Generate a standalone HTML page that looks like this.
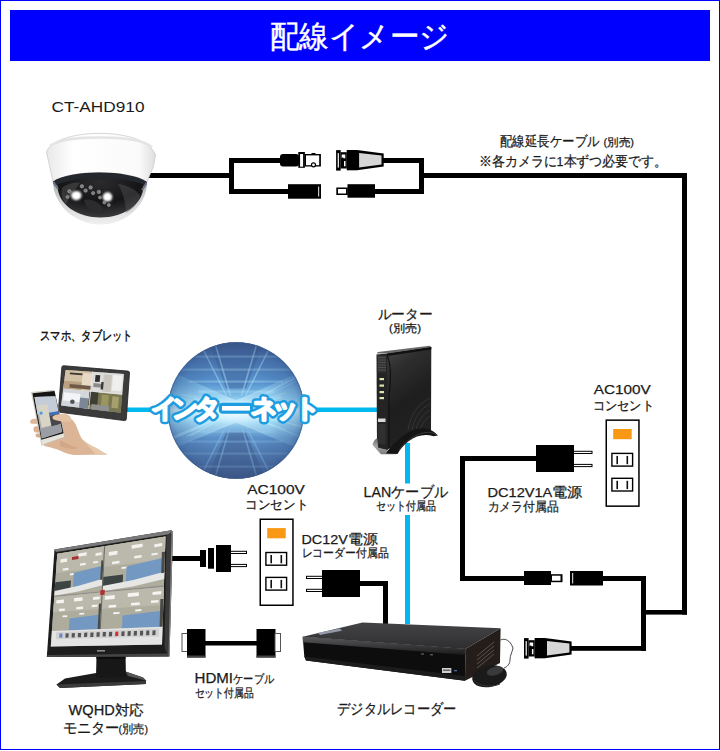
<!DOCTYPE html>
<html><head><meta charset="utf-8">
<style>
html,body{margin:0;padding:0;background:#fff;}
body{width:720px;height:751px;overflow:hidden;font-family:"Liberation Sans",sans-serif;}
svg{display:block;}
text{font-family:"Liberation Sans",sans-serif;fill:#1a1a1a;}
</style></head><body>
<svg width="720" height="751" viewBox="0 0 720 751">
<defs>
  <linearGradient id="gGlobeV" x1="0" y1="0" x2="0" y2="1">
    <stop offset="0" stop-color="#465f8e"/>
    <stop offset="0.12" stop-color="#4c78b2"/>
    <stop offset="0.3" stop-color="#5894cf"/>
    <stop offset="0.42" stop-color="#8ccbee"/>
    <stop offset="0.5" stop-color="#dff6ff"/>
    <stop offset="0.58" stop-color="#9ad3f2"/>
    <stop offset="0.7" stop-color="#5a8fc8"/>
    <stop offset="0.88" stop-color="#4f74a8"/>
    <stop offset="1" stop-color="#4a6290"/>
  </linearGradient>
  <radialGradient id="gGlobeR" cx="0.5" cy="0.5" r="0.5">
    <stop offset="0.55" stop-color="#2a4a80" stop-opacity="0"/>
    <stop offset="0.9" stop-color="#2a4a80" stop-opacity="0.25"/>
    <stop offset="1" stop-color="#2a4a80" stop-opacity="0.45"/>
  </radialGradient>
  <radialGradient id="gBand" cx="0.5" cy="0.5" r="0.5">
    <stop offset="0" stop-color="#ffffff" stop-opacity="0.9"/>
    <stop offset="0.6" stop-color="#d4f2ff" stop-opacity="0.5"/>
    <stop offset="1" stop-color="#a8e0fa" stop-opacity="0"/>
  </radialGradient>
  <linearGradient id="gBow" x1="0" y1="0" x2="1" y2="0">
    <stop offset="0" stop-color="#9fdcf8" stop-opacity="0.15"/>
    <stop offset="0.3" stop-color="#b8ecff" stop-opacity="0.35"/>
    <stop offset="0.5" stop-color="#e8fbff" stop-opacity="0.5"/>
    <stop offset="0.7" stop-color="#b8ecff" stop-opacity="0.35"/>
    <stop offset="1" stop-color="#9fdcf8" stop-opacity="0.15"/>
  </linearGradient>
  <clipPath id="cGlobe"><circle cx="236" cy="410.5" r="68.3"/></clipPath>
  <radialGradient id="gDome" cx="0.5" cy="0.2" r="0.8">
    <stop offset="0" stop-color="#2c2c2e"/>
    <stop offset="0.55" stop-color="#151517"/>
    <stop offset="1" stop-color="#3a3a3c"/>
  </radialGradient>
  <filter id="fBlur" x="-50%" y="-50%" width="200%" height="200%"><feGaussianBlur stdDeviation="1.1"/></filter>
  <linearGradient id="gShell" x1="0" y1="0" x2="0" y2="1">
    <stop offset="0" stop-color="#9a9a9a"/>
    <stop offset="0.5" stop-color="#d0d0d0"/>
    <stop offset="1" stop-color="#f0f0f0"/>
  </linearGradient>
  <linearGradient id="gHouse" x1="0" y1="0" x2="1" y2="0">
    <stop offset="0" stop-color="#e9e9e9"/>
    <stop offset="0.25" stop-color="#ffffff"/>
    <stop offset="0.85" stop-color="#fafafa"/>
    <stop offset="1" stop-color="#dedede"/>
  </linearGradient>
  <linearGradient id="gDvrTop" x1="0" y1="0" x2="0" y2="1">
    <stop offset="0" stop-color="#444446"/>
    <stop offset="1" stop-color="#2e2e30"/>
  </linearGradient>
  <linearGradient id="gDvrFront" x1="0" y1="0" x2="0" y2="1">
    <stop offset="0" stop-color="#1c1c1c"/>
    <stop offset="0.4" stop-color="#0e0e0e"/>
    <stop offset="1" stop-color="#141414"/>
  </linearGradient>
  <linearGradient id="gDvrBevel" x1="0" y1="0" x2="0" y2="1">
    <stop offset="0" stop-color="#5a5a5c"/>
    <stop offset="0.5" stop-color="#3a3a3c"/>
    <stop offset="1" stop-color="#1a1a1a"/>
  </linearGradient>
  <linearGradient id="gFoot" x1="0" y1="0" x2="0" y2="1">
    <stop offset="0" stop-color="#6a6a6a"/>
    <stop offset="0.5" stop-color="#a8a8a8"/>
    <stop offset="1" stop-color="#7a7a7a"/>
  </linearGradient>
  <linearGradient id="gRouter" x1="0" y1="0" x2="0.3" y2="1">
    <stop offset="0" stop-color="#474747"/>
    <stop offset="0.25" stop-color="#2e2e2e"/>
    <stop offset="0.6" stop-color="#1e1e1e"/>
    <stop offset="1" stop-color="#222"/>
  </linearGradient>
</defs>

<!-- border + title -->
<rect x="0.5" y="0.5" width="719" height="749" fill="#fff" stroke="#0000ff" stroke-width="1"/>
<rect x="10" y="10" width="700" height="51" fill="#0000ff"/>
<text x="359.5" y="46.5" text-anchor="middle" font-size="31" style="fill:#fff;stroke:#fff;stroke-width:0.4" textLength="180" lengthAdjust="spacingAndGlyphs">配線イメージ</text>

<!-- ============ CABLES (black) ============ -->
<g fill="#000">
  <rect x="148" y="173" width="86" height="5"/>
  <rect x="229" y="158" width="5" height="36"/>
  <rect x="229" y="158" width="52" height="5"/>
  <rect x="229" y="189" width="60" height="5"/>
  <rect x="380" y="158" width="44" height="5"/>
  <rect x="372" y="189" width="52" height="5"/>
  <rect x="419" y="158" width="5" height="36"/>
  <rect x="419" y="173" width="268" height="5"/>
  <rect x="682" y="173" width="5" height="441.6"/>
  <rect x="641" y="610" width="46" height="4.6"/>
  <rect x="641" y="576" width="5" height="75"/>
  <rect x="600" y="576" width="46" height="5"/>
  <rect x="568" y="646" width="78" height="4.8"/>
  <rect x="460" y="456" width="78" height="5"/>
  <rect x="460" y="456" width="5" height="125"/>
  <rect x="460" y="576" width="66" height="5"/>
  <rect x="168" y="556" width="33" height="5"/>
  <rect x="358" y="581" width="30" height="5"/>
  <rect x="383" y="581" width="5" height="43"/>
  <rect x="204" y="641" width="54" height="4.5"/>
</g>

<!-- LAN (blue) -->
<g fill="#00b7ee">
  <rect x="125" y="407.5" width="253" height="4.5"/>
  <rect x="405" y="443" width="5" height="40.5"/>
  <rect x="405" y="515" width="5" height="109"/>
</g>

<!-- ============ CONNECTORS ============ -->
<!-- left BNC male -->
<rect x="280" y="154" width="19" height="12.5" rx="3" fill="#000"/>
<rect x="298.3" y="152" width="6.6" height="15.8" fill="#000"/>
<rect x="300.1" y="154" width="3" height="12.7" fill="#fff"/>
<rect x="304.9" y="154" width="16" height="12.5" fill="#000"/>
<rect x="306" y="155.4" width="13.2" height="9.8" fill="#fff"/>
<circle cx="313.5" cy="164.8" r="2" fill="#fff" stroke="#000" stroke-width="1.2"/>
<rect x="311.5" y="153" width="4" height="2" fill="#000"/>
<!-- left DC female -->
<rect x="288" y="184.2" width="33" height="14.5" fill="#000"/>
<rect x="318" y="186.5" width="1.2" height="10" fill="#c8c8c8"/>
<g transform="translate(336.1,160.3)">
  <rect x="0" y="-10.2" width="4.6" height="20.5" fill="#000"/>
  <rect x="1.6" y="-7.2" width="1.2" height="14.5" fill="#fff"/>
  <rect x="4.5" y="-8.1" width="6.2" height="16.3" fill="#000"/>
  <rect x="5.6" y="-5.8" width="3.6" height="3.8" fill="#fff"/>
  <rect x="7.9" y="0.8" width="1.5" height="5.2" fill="#fff"/>
  <circle cx="6.6" cy="-1.6" r="1.1" fill="#000"/>
  <rect x="10.6" y="-10.3" width="10.4" height="20.3" fill="#000"/>
  <polygon points="20.8,-10.3 47.6,-6.7 47.6,6.1 20.8,10" fill="#000"/>
  <polygon points="23,-7.4 45.4,-4.7 45.4,4.1 23,7.1" fill="#d6d6d6"/>
</g>
<!-- right DC male -->
<rect x="336.3" y="187.5" width="11.5" height="7.5" fill="#000"/>
<rect x="338" y="189" width="8" height="4.5" fill="#fff"/>
<rect x="347.5" y="184.2" width="27.5" height="13.5" fill="#000"/>

<rect x="524" y="571" width="27" height="14" fill="#000"/>
<rect x="550.5" y="574.2" width="12" height="8" fill="#000"/>
<rect x="552" y="575.7" width="8.5" height="5" fill="#fff"/>
<rect x="570" y="571" width="33" height="14.5" fill="#000"/>
<rect x="572" y="573" width="1.2" height="10.5" fill="#c8c8c8"/>

<g transform="translate(524,648.3)">
  <rect x="0" y="-10.2" width="4.6" height="20.5" fill="#000"/>
  <rect x="1.6" y="-7.2" width="1.2" height="14.5" fill="#fff"/>
  <rect x="4.5" y="-8.1" width="6.2" height="16.3" fill="#000"/>
  <rect x="5.6" y="-5.8" width="3.6" height="3.8" fill="#fff"/>
  <rect x="7.9" y="0.8" width="1.5" height="5.2" fill="#fff"/>
  <circle cx="6.6" cy="-1.6" r="1.1" fill="#000"/>
  <rect x="10.6" y="-10.3" width="10.4" height="20.3" fill="#000"/>
  <polygon points="20.8,-10.3 47.6,-6.7 47.6,6.1 20.8,10" fill="#000"/>
  <polygon points="23,-7.4 45.4,-4.7 45.4,4.1 23,7.1" fill="#d6d6d6"/>
</g>

<rect x="536" y="445" width="38" height="27" fill="#000"/>
<g fill="#fff" stroke="#000" stroke-width="1">
  <rect x="573.5" y="451.3" width="18.5" height="2.2"/>
  <rect x="573.5" y="464.4" width="18.5" height="2.2"/>
</g>

<rect x="200" y="550" width="6" height="17" fill="#000"/>
<rect x="208" y="548" width="6" height="20.7" fill="#000"/>
<rect x="216" y="545" width="15" height="27" fill="#000"/>
<g fill="#fff" stroke="#000" stroke-width="1">
  <rect x="230.5" y="551.3" width="16" height="2.2"/>
  <rect x="230.5" y="564.4" width="16" height="2.2"/>
</g>

<rect x="322" y="570" width="38" height="27" fill="#000"/>
<g fill="#fff" stroke="#000" stroke-width="1">
  <rect x="306.5" y="576.3" width="16" height="2.2"/>
  <rect x="306.5" y="589.3" width="16" height="2.2"/>
</g>

<rect x="182" y="633.5" width="6" height="18" fill="#fff" stroke="#555" stroke-width="1"/>
<rect x="187" y="629" width="18.5" height="28.5" fill="#000"/>
<rect x="187" y="655.5" width="18.5" height="2" fill="#444"/>
<rect x="256.5" y="629" width="19" height="28.5" fill="#000"/>
<rect x="256.5" y="655.5" width="19" height="2" fill="#444"/>
<rect x="275" y="633.5" width="5.5" height="18" fill="#fff" stroke="#555" stroke-width="1"/>

<g transform="translate(259.5,518.5)">
  <rect x="0" y="0" width="34.2" height="87.5" fill="#000"/>
  <rect x="1.5" y="1.5" width="31.2" height="84.5" fill="#fff"/>
  <rect x="7.7" y="9.6" width="18.5" height="10.2" fill="#f99815"/>
  <rect x="5.7" y="33.3" width="22.1" height="14.1" fill="#000"/>
  <rect x="7.1" y="34.7" width="19.3" height="11.3" fill="#fff"/>
  <rect x="10.9" y="36.5" width="1.6" height="8.3" fill="#111"/>
  <rect x="21" y="36.5" width="1.6" height="8.3" fill="#111"/>
  <rect x="5.7" y="58.2" width="22.1" height="14.1" fill="#000"/>
  <rect x="7.1" y="59.6" width="19.3" height="11.3" fill="#fff"/>
  <rect x="10.9" y="61.4" width="1.6" height="8.3" fill="#111"/>
  <rect x="21" y="61.4" width="1.6" height="8.3" fill="#111"/>
</g>
<g transform="translate(605.5,419.4)">
  <rect x="0" y="0" width="34.2" height="87.5" fill="#000"/>
  <rect x="1.5" y="1.5" width="31.2" height="84.5" fill="#fff"/>
  <rect x="7.7" y="9.6" width="18.5" height="10.2" fill="#f99815"/>
  <rect x="5.7" y="33.3" width="22.1" height="14.1" fill="#000"/>
  <rect x="7.1" y="34.7" width="19.3" height="11.3" fill="#fff"/>
  <rect x="10.9" y="36.5" width="1.6" height="8.3" fill="#111"/>
  <rect x="21" y="36.5" width="1.6" height="8.3" fill="#111"/>
  <rect x="5.7" y="58.2" width="22.1" height="14.1" fill="#000"/>
  <rect x="7.1" y="59.6" width="19.3" height="11.3" fill="#fff"/>
  <rect x="10.9" y="61.4" width="1.6" height="8.3" fill="#111"/>
  <rect x="21" y="61.4" width="1.6" height="8.3" fill="#111"/>
</g>

<!-- ============ CAMERA ============ -->
<g>
  <path d="M46.5,152 C50,141 72,133.5 100,133.3 C128,133.5 150,141 155.5,155 L153.5,166 L147,182 C130,170 72,169 53,181.5 Z" fill="url(#gHouse)" stroke="#c4c4c4" stroke-width="0.7"/>
  <path d="M50,146 C60,138.5 80,137.5 100,137.5 C122,137.5 142,139 152,147" fill="none" stroke="#e4e4e4" stroke-width="2.5"/>
  <path d="M53,181.5 C72,169 130,170 147,182 C147,206 125,224.5 100.5,224.5 C76,224.5 53.5,206 53,181.5 Z" fill="url(#gShell)"/>
  <path d="M54,181.5 C72,170 130,171 146,182 L143.5,186 C143,205 123,217.5 100.5,217.5 C78,217.5 58,205 57.5,186 Z" fill="url(#gDome)"/>
  <path d="M62,188 C66,184 74,182 80,183 C76,188 70,196 66,204 C62,200 61,194 62,188 Z" fill="#5a5a5c" opacity="0.45"/>
  <path d="M118,184 C128,185 137,190 140,196 C138,204 132,210 126,213 C126,204 123,192 118,184 Z" fill="#5a5a5c" opacity="0.4"/>
  <path d="M53,181.5 C72,169 130,170 147,182 L146,186 C128,176 74,175 55,186 Z" fill="#23282e"/>
  <path d="M53.5,182 C55,185 57,187 58,189" fill="none" stroke="#6a7480" stroke-width="2"/>
  <path d="M146.5,182.5 C145.5,185 144,187.5 142,190" fill="none" stroke="#6a7480" stroke-width="2"/>
  <g filter="url(#fBlur)"><ellipse cx="76.3" cy="195.6" rx="5.2" ry="4.6" fill="#ffffff"/>
  <ellipse cx="107.5" cy="196.9" rx="4.8" ry="4.6" fill="#ffffff"/></g>
  <path d="M84,200 C92,198 102,203 104,213 C96,215 87,211 84,200 Z" fill="#2c2c2e"/>
  <g fill="#7a7a7a" stroke="#aaa" stroke-width="0.6"><circle cx="69.4" cy="191.3" r="1.7"/><circle cx="81.9" cy="186.3" r="1.7"/><circle cx="90.6" cy="187.5" r="1.7"/><circle cx="85.6" cy="190.6" r="1.7"/><circle cx="93.1" cy="193.1" r="1.6"/><circle cx="98.8" cy="191.9" r="1.7"/><circle cx="100" cy="197.5" r="1.5"/><circle cx="104.4" cy="202.5" r="1.5"/><circle cx="108.8" cy="205" r="1.5"/><circle cx="67.5" cy="196.9" r="1.5"/></g>
</g>

<!-- ============ TABLET / PHONE ============ -->
<g>
<path d="M63.5,365.7 L127.8,371.1 Q129.6,371.3 129.5,373 L126.3,419 Q126.1,420.8 124.3,420.6 L60,412.3 Q58.2,412 58.4,410.3 L61.8,367.3 Q62,365.6 63.5,365.7 Z" fill="#3b3b3b" stroke="#1e1e1e" stroke-width="0.8"/>
<polygon points="65.6,370.0 123.9,373.9 120.6,412.8 61.1,405.6" fill="#999" />
<polygon points="65.6,370.0 93.0,371.8 90.9,391.5 63.2,388.9" fill="#d3c1a6" />
<polygon points="70.0,372.5 82.8,373.4 82.6,375.2 69.8,374.3" fill="#3a342e" />
<polygon points="82.9,373.0 92.8,373.7 91.4,386.7 81.4,385.8" fill="#e6dac6" />
<polygon points="64.2,380.7 81.8,382.1 80.9,390.6 63.2,388.9" fill="#b8a080" />
<polygon points="69.8,384.0 91.5,386.0 91.1,389.7 69.3,387.6" fill="#6e5a46" />
<polygon points="93.0,371.8 123.9,373.9 122.2,394.5 90.9,391.5" fill="#dcdcda" />
<polygon points="95.6,375.0 100.3,375.3 99.6,382.1 94.9,381.7" fill="#2e2e2e" />
<polygon points="93.6,383.1 103.0,383.9 102.6,387.7 93.2,386.9" fill="#8a8a88" />
<polygon points="103.9,374.5 112.1,375.0 110.5,392.2 102.2,391.5" fill="#cac6be" />
<polygon points="113.2,375.1 122.6,375.8 121.2,391.3 111.8,390.4" fill="#efefed" />
<polygon points="101.4,381.9 103.7,382.1 103.0,389.6 100.6,389.4" fill="#3a3a3a" />
<polygon points="63.2,388.9 89.7,391.4 87.9,408.8 61.1,405.6" fill="#d3d7dc" />
<polygon points="64.0,392.2 80.5,393.9 79.6,402.3 63.0,400.4" fill="#f2f4f6" />
<polygon points="80.1,397.5 89.0,398.5 87.9,408.8 79.0,407.8" fill="#7c8696" />
<circle cx="72.4" cy="401.8" r="2.3" fill="#555"/>
<polygon points="89.7,391.4 122.2,394.5 120.6,412.8 87.9,408.8" fill="#7a7850" />
<polygon points="89.7,391.4 98.6,392.3 97.2,406.2 88.3,405.1" fill="#3e3e32" />
<polygon points="101.9,394.5 109.0,395.2 107.7,409.3 100.6,408.5" fill="#9a9660" />
<polygon points="112.5,396.3 119.0,396.9 118.0,408.6 111.4,407.8" fill="#a6a070" />
<polygon points="91.4,404.0 109.2,406.0 108.7,411.4 90.8,409.2" fill="#909090" />
<polygon points="92.3,371.8 93.0,371.8 89.1,409.0 88.4,408.9" fill="#eeeeee" />
<polygon points="63.3,388.5 122.2,394.1 122.1,394.7 63.2,389.0" fill="#eeeeee" />
<path d="M53,417 C58,414.5 64,415.5 67,416.5 C71,418 74,421 76,425 C78,430 80,436 82,439 C86,443 92,446 98,449 C101,451 104,453 107.5,454.6 L74,455 C68,454.2 64,452.5 60,450.5 C55,448.5 48,446.8 44,446 L46,430 Z" fill="#dbb595"/>
<path d="M82,439 C86,443 92,446 98,449 C101,451 104,453 107.5,454.6 L96,454.8 C92,450 88,446 84,442 Z" fill="#e6c8aa"/>
<path d="M60,440 C66,444 72,446 78,448 C74,450 66,449 60,446 Z" fill="#c99f7f" opacity="0.6"/>
<path d="M34,418.7 C30,418.7 28.8,422.6 31.5,423.8 L40,424 L40,418.7 Z" fill="#e0b898"/>
<path d="M35.5,426.2 C32.5,427 32.8,432 36,432.6 L41,432.6 L40,426.2 Z" fill="#dcb090"/>
<path d="M37,433.6 C34.8,434.2 35.2,437.4 38,437.6 L42,437.4 L41,433.6 Z" fill="#d8ac8c"/>
<polygon points="31.5,392.4 54.1,390.3 64.8,437.1 41.8,445.2" fill="#e6e3da" stroke="#b8b4a8" stroke-width="0.6" stroke-linejoin="round"/>
<polygon points="32.4,393.2 54.5,391.1 63.5,433.3 41.3,439.7" fill="#151515"/>
<polygon points="34.5,397.1 55.4,396.2 62.2,432.0 41.8,438.4" fill="#a6aab0" />
<polygon points="34.5,397.1 55.4,396.2 58.3,411.2 37.6,414.4" fill="#c4ccd8" />
<polygon points="37.6,405.2 47.4,404.3 51.3,425.3 41.6,427.7" fill="#d9d5c6" />
<circle cx="41.1" cy="413.1" r="1.6" fill="#4a9ae0"/>
<polygon points="48.9,412.7 58.3,411.2 58.8,414.1 49.5,415.7" fill="#3c6ec0" />
<polygon points="49.5,415.7 58.8,414.1 60.7,424.1 51.5,426.5" fill="#46464c" />
<polygon points="40.2,429.3 60.7,424.1 62.2,432.0 41.8,438.4" fill="#9a9ea4" />
<path d="M52.5,416.8 C54.5,414.5 61,413.8 66.5,414.2 C70,415 72,418 71,421.5 C67,422.5 61,421.5 57,420.5 C54,420 52,419 52.5,416.8 Z" fill="#e4c2a4"/>
</g>

<!-- ============ GLOBE ============ -->
<g>
<circle cx="236" cy="410.5" r="68.3" fill="url(#gGlobeV)"/>
<g clip-path="url(#cGlobe)">
<polygon points="208,340.5 264,340.5 246,388.5 226,388.5" fill="#3f5f94" opacity="0.45"/>
<polygon points="206,480.5 266,480.5 246,432.5 226,432.5" fill="#3f5a88" opacity="0.5"/>
<rect x="198" y="390.5" width="76" height="2.2" fill="#b8e4fa" opacity="0.35"/>
<rect x="198" y="430.5" width="76" height="2.2" fill="#8fbde6" opacity="0.35"/>
<rect x="189" y="380.5" width="94" height="2.2" fill="#b8e4fa" opacity="0.35"/>
<rect x="189" y="440.5" width="94" height="2.2" fill="#8fbde6" opacity="0.35"/>
<rect x="178.2" y="368.5" width="115.6" height="2.2" fill="#b8e4fa" opacity="0.3"/>
<rect x="178.2" y="452.5" width="115.6" height="2.2" fill="#8fbde6" opacity="0.3"/>
<rect x="166.5" y="355.5" width="139" height="2.2" fill="#b8e4fa" opacity="0.3"/>
<rect x="166.5" y="465.5" width="139" height="2.2" fill="#8fbde6" opacity="0.3"/>
<line x1="230.4" y1="395.5" x2="213.6" y2="338.5" stroke="#a8dcf7" stroke-width="1.6" opacity="0.5"/>
<line x1="230.4" y1="425.5" x2="213.6" y2="482.5" stroke="#8cc4ec" stroke-width="1.6" opacity="0.45"/>
<line x1="226.4" y1="395.5" x2="197.6" y2="338.5" stroke="#a8dcf7" stroke-width="1.6" opacity="0.5"/>
<line x1="226.4" y1="425.5" x2="197.6" y2="482.5" stroke="#8cc4ec" stroke-width="1.6" opacity="0.45"/>
<line x1="241.6" y1="395.5" x2="258.4" y2="338.5" stroke="#a8dcf7" stroke-width="1.6" opacity="0.5"/>
<line x1="241.6" y1="425.5" x2="258.4" y2="482.5" stroke="#8cc4ec" stroke-width="1.6" opacity="0.45"/>
<line x1="245.6" y1="395.5" x2="274.4" y2="338.5" stroke="#a8dcf7" stroke-width="1.6" opacity="0.5"/>
<line x1="245.6" y1="425.5" x2="274.4" y2="482.5" stroke="#8cc4ec" stroke-width="1.6" opacity="0.45"/>
<line x1="228.3" y1="408.2" x2="181.6" y2="394.4" stroke="#c8f0ff" stroke-width="1.0" opacity="0.43"/>
<line x1="243.9" y1="411.6" x2="273.3" y2="415.7" stroke="#c8f0ff" stroke-width="0.6" opacity="0.50"/>
<line x1="228.3" y1="408.4" x2="193.2" y2="398.9" stroke="#c8f0ff" stroke-width="1.6" opacity="0.39"/>
<line x1="243.5" y1="413.4" x2="286.4" y2="430.1" stroke="#c8f0ff" stroke-width="1.2" opacity="0.30"/>
<line x1="228.1" y1="411.7" x2="167.0" y2="420.8" stroke="#c8f0ff" stroke-width="1.1" opacity="0.47"/>
<line x1="243.9" y1="412.0" x2="272.9" y2="417.5" stroke="#c8f0ff" stroke-width="1.4" opacity="0.43"/>
<line x1="228.2" y1="408.8" x2="200.6" y2="402.6" stroke="#c8f0ff" stroke-width="1.5" opacity="0.39"/>
<line x1="243.8" y1="412.4" x2="304.1" y2="427.2" stroke="#c8f0ff" stroke-width="1.3" opacity="0.53"/>
<line x1="228.1" y1="409.6" x2="169.4" y2="402.8" stroke="#c8f0ff" stroke-width="1.0" opacity="0.53"/>
<line x1="243.3" y1="413.7" x2="271.6" y2="426.2" stroke="#c8f0ff" stroke-width="0.7" opacity="0.32"/>
<line x1="229.0" y1="414.4" x2="190.3" y2="436.2" stroke="#c8f0ff" stroke-width="1.2" opacity="0.34"/>
<line x1="244.0" y1="410.6" x2="286.4" y2="410.9" stroke="#c8f0ff" stroke-width="1.0" opacity="0.43"/>
<line x1="228.0" y1="411.2" x2="165.1" y2="417.1" stroke="#c8f0ff" stroke-width="1.3" opacity="0.53"/>
<line x1="243.4" y1="413.6" x2="305.0" y2="439.0" stroke="#c8f0ff" stroke-width="1.3" opacity="0.30"/>
<line x1="228.6" y1="413.6" x2="168.1" y2="438.9" stroke="#c8f0ff" stroke-width="1.5" opacity="0.42"/>
<line x1="243.8" y1="412.4" x2="278.2" y2="420.6" stroke="#c8f0ff" stroke-width="1.4" opacity="0.42"/>
<line x1="228.2" y1="408.6" x2="199.5" y2="401.7" stroke="#c8f0ff" stroke-width="1.5" opacity="0.55"/>
<line x1="243.2" y1="407.0" x2="296.3" y2="381.2" stroke="#c8f0ff" stroke-width="1.0" opacity="0.30"/>
<line x1="228.2" y1="408.7" x2="171.9" y2="395.7" stroke="#c8f0ff" stroke-width="1.5" opacity="0.26"/>
<line x1="243.9" y1="411.5" x2="272.5" y2="415.1" stroke="#c8f0ff" stroke-width="1.3" opacity="0.35"/>
<line x1="228.7" y1="413.8" x2="168.2" y2="440.7" stroke="#c8f0ff" stroke-width="1.1" opacity="0.55"/>
<line x1="243.8" y1="408.8" x2="273.2" y2="402.6" stroke="#c8f0ff" stroke-width="1.2" opacity="0.26"/>
<line x1="228.4" y1="407.9" x2="187.5" y2="393.7" stroke="#c8f0ff" stroke-width="1.2" opacity="0.30"/>
<line x1="243.0" y1="406.6" x2="297.1" y2="376.9" stroke="#c8f0ff" stroke-width="0.9" opacity="0.54"/>
<line x1="228.7" y1="413.9" x2="190.6" y2="431.7" stroke="#c8f0ff" stroke-width="1.1" opacity="0.41"/>
<line x1="243.9" y1="411.8" x2="294.1" y2="419.8" stroke="#c8f0ff" stroke-width="1.2" opacity="0.44"/>
<line x1="228.9" y1="414.2" x2="187.1" y2="436.3" stroke="#c8f0ff" stroke-width="1.0" opacity="0.47"/>
<line x1="243.7" y1="408.2" x2="281.1" y2="397.1" stroke="#c8f0ff" stroke-width="1.6" opacity="0.41"/>
<line x1="228.0" y1="410.9" x2="200.6" y2="412.4" stroke="#c8f0ff" stroke-width="1.0" opacity="0.42"/>
<line x1="242.9" y1="406.5" x2="287.5" y2="380.5" stroke="#c8f0ff" stroke-width="1.2" opacity="0.27"/>
<line x1="228.1" y1="411.6" x2="182.9" y2="418.0" stroke="#c8f0ff" stroke-width="1.3" opacity="0.36"/>
<line x1="243.8" y1="412.3" x2="298.9" y2="425.1" stroke="#c8f0ff" stroke-width="0.6" opacity="0.27"/>
<line x1="228.1" y1="412.0" x2="163.8" y2="424.6" stroke="#c8f0ff" stroke-width="0.9" opacity="0.39"/>
<line x1="244.0" y1="411.3" x2="283.6" y2="415.4" stroke="#c8f0ff" stroke-width="1.0" opacity="0.34"/>
<line x1="228.1" y1="409.4" x2="177.8" y2="402.1" stroke="#c8f0ff" stroke-width="0.9" opacity="0.36"/>
<line x1="243.6" y1="412.9" x2="270.5" y2="421.1" stroke="#c8f0ff" stroke-width="1.2" opacity="0.47"/>
<line x1="228.2" y1="408.8" x2="193.1" y2="401.4" stroke="#c8f0ff" stroke-width="1.4" opacity="0.32"/>
<line x1="243.5" y1="407.8" x2="285.3" y2="392.8" stroke="#c8f0ff" stroke-width="1.3" opacity="0.28"/>
<line x1="228.2" y1="408.9" x2="188.6" y2="401.1" stroke="#c8f0ff" stroke-width="1.4" opacity="0.38"/>
<line x1="243.4" y1="413.5" x2="274.6" y2="426.4" stroke="#c8f0ff" stroke-width="0.9" opacity="0.45"/>
<polygon points="236,400.5 164,368.5 164,452.5 236,422.5 308,452.5 308,368.5" fill="url(#gBow)"/>
</g>
<circle cx="236" cy="410.5" r="68.3" fill="url(#gGlobeR)"/>
<ellipse cx="236" cy="411.5" rx="60" ry="15" fill="url(#gBand)"/>
<circle cx="236" cy="410.5" r="67.8" fill="none" stroke="#3d5a88" stroke-width="1" opacity="0.6"/>
</g>
<g style="font-size:25.5px;font-weight:bold">
<text x="164.3 185.3 207 264.3 285.5 307.4" y="416.6" text-anchor="middle" style="fill:#1e9ce0;stroke:#1e9ce0;stroke-width:7;stroke-linejoin:round">インタネット</text>
<rect x="222" y="406" width="28" height="4.6" rx="0.8" fill="#1e9ce0" stroke="#1e9ce0" stroke-width="6.5" stroke-linejoin="round"/>
<text x="164.3 185.3 207 264.3 285.5 307.4" y="416.6" text-anchor="middle" style="fill:#fff;stroke:#fff;stroke-width:2;stroke-linejoin:round">インタネット</text>
<rect x="222" y="406" width="28" height="4.6" fill="#fff"/>
</g>

<!-- ============ ROUTER ============ -->
<g>
  <polygon points="387,353.5 431.3,347 431,431.5 420,430 408,436 396,445 387,450" fill="url(#gRouter)"/>
  <polygon points="376.5,354.5 387,353.5 387.5,450 377,449" fill="#242424"/>
  <polygon points="376.5,353.5 378,352 429.5,345.8 431.3,347 387,353.5" fill="#6a6a6a"/>
  <rect x="377.5" y="355.5" width="8.5" height="17" fill="#333"/>
  <g stroke="#5a5a5a" stroke-width="0.7"><line x1="378" y1="357.5" x2="386" y2="357.5"/><line x1="378" y1="360" x2="386" y2="360"/><line x1="378" y1="362.5" x2="386" y2="362.5"/><line x1="378" y1="365" x2="386" y2="365"/><line x1="378" y1="367.5" x2="386" y2="367.5"/><line x1="378" y1="370" x2="386" y2="370"/></g>
  <polygon points="387,353.5 431.3,347 431.3,349.5 387,356" fill="#111"/>
  <path d="M387.5,356 C391,365 391,380 389,395 L389,448" fill="none" stroke="#111" stroke-width="1.2"/>
  <g fill="#d8e6b0"><rect x="379.5" y="378" width="4.5" height="2.2"/><rect x="379.5" y="384.5" width="4.5" height="2.2"/><rect x="379.5" y="391" width="4.5" height="2.2"/><rect x="379.5" y="397" width="4.5" height="2.2"/></g>
  <rect x="378" y="418.5" width="7.5" height="3.5" fill="#d8d8d8"/>
  <rect x="378" y="424" width="7.5" height="20" fill="#303030"/>
  <g fill="none" stroke="#3a3a3a" stroke-width="0.8">
    <path d="M430,398 C418,404 410,416 408,430"/><path d="M430,404 C420,409 414,418 412,430"/><path d="M430,410 C423,414 418,421 416,430"/><path d="M430,416 C425,419 422,424 420,430"/>
  </g>
  <path d="M372.6,445 C373.5,441 375.5,438.5 377.5,438.5 L378,447.5 L389,450.5 L396,454.2 L381,454.2 Z" fill="url(#gFoot)"/>
  <path d="M386,453.5 C391,446 400,436.5 412,430.5 C421,426.5 431,427.5 437.9,435.4 L433.5,436.2 C425,433.5 416,435.5 409,441 C403,445.5 399.5,450 397.5,454 Z" fill="#151515"/>
  <path d="M399,450 C405,442 414,434.5 425,432.5 C430,432 434,433 436.5,434.8" fill="none" stroke="#3a3a3a" stroke-width="0.9"/>
</g>

<!-- ============ MONITOR ============ -->
<g>
<path d="M56.5,684.5 L65,678.5 L96,673 L125.5,671.5 L143,677.5 L146,680.5 L146,684 L60,688 Z" fill="#1c1c1c"/>
<path d="M56.5,684.5 L60,688 L146,684 L146,681 Z" fill="#3a3a3a"/>
<path d="M125.5,671.5 L143,677.5 L146,680.5 L128,676 Z" fill="#555"/>
<path d="M96.5,655 L125.5,655 L126,677 L96,678 Z" fill="#171717"/>
<path d="M96.5,655 L125.5,655 L125.5,659 L96.5,659 Z" fill="#0c0c0c"/>
<polygon points="54.5,549.5 171.5,530.3 173,532 169.5,656.5 46.8,657" fill="#1d1d1d"/>
<polygon points="54.5,549.5 171.5,530.3 173,532 171,534 56,552" fill="#7a7a7a"/>
<polygon points="166.5,536 171.5,531.5 168.8,656.5 164.5,648" fill="#3a3a3a"/>
<polygon points="171.5,531.5 173,532 169.5,656.5 168.5,656.5" fill="#8a8a8a"/>
<polygon points="47.5,655 168,653.5 168.3,656.5 46.8,657" fill="#444"/>
<rect x="97" y="650" width="8" height="1.6" fill="#8a8a8a"/>
<polygon points="57.3,553.8 165.5,536.6 162.0,644.6 50.8,646.4" fill="#a9a797" />
<polygon points="57.3,553.8 104.4,546.3 101.9,592.6 54.3,597.0" fill="#aeac9c" />
<polygon points="57.3,553.8 104.4,546.3 103.3,567.1 55.9,573.2" fill="#bbb9ab" />
<polygon points="60.6,559.3 67.2,558.3 67.0,561.8 60.4,562.7" fill="#f2f2ee" />
<polygon points="78.3,553.6 86.8,552.2 86.6,555.4 78.1,556.7" fill="#f2f2ee" />
<polygon points="95.6,553.2 101.7,552.2 101.6,555.0 95.4,555.9" fill="#f2f2ee" />
<polygon points="62.8,568.4 68.5,567.7 68.4,569.9 62.7,570.6" fill="#f2f2ee" />
<polygon points="80.0,563.5 85.7,562.7 85.6,564.9 79.9,565.7" fill="#f2f2ee" />
<polygon points="93.2,561.6 98.0,561.0 97.9,562.8 93.1,563.5" fill="#f2f2ee" />
<polygon points="70.0,573.6 74.7,573.0 74.6,574.8 69.9,575.4" fill="#f2f2ee" />
<polygon points="55.3,582.3 71.0,580.5 70.3,590.2 54.6,591.8" fill="#3d4444" />
<polygon points="73.8,573.1 101.5,566.0 100.6,582.6 72.8,589.1" fill="#7399c2" />
<polygon points="54.7,590.9 78.7,585.8 102.7,578.7 102.3,585.2 78.3,591.6 54.4,595.7" fill="#e6e6e4" />
<polygon points="54.4,595.7 102.0,591.2 101.9,592.6 54.3,597.0" fill="#8e8e8c" />
<polygon points="101.3,560.5 103.6,560.2 102.6,579.6 100.2,579.9" fill="#4a4a48" />
<polygon points="54.3,597.0 101.9,592.6 100.0,629.2 51.9,631.1" fill="#aeac9c" />
<polygon points="54.3,597.0 101.9,592.6 101.1,609.1 53.2,612.3" fill="#bbb9ab" />
<polygon points="56.4,600.2 64.1,599.5 63.8,603.0 56.2,603.6" fill="#f4f4f0" />
<polygon points="74.1,597.9 82.7,597.2 82.5,600.8 73.9,601.5" fill="#f4f4f0" />
<polygon points="93.2,597.0 99.8,596.4 99.7,599.3 93.0,599.9" fill="#f4f4f0" />
<polygon points="59.1,608.8 64.9,608.4 64.7,610.9 59.0,611.2" fill="#f4f4f0" />
<polygon points="76.4,606.9 83.1,606.4 83.0,608.9 76.3,609.4" fill="#f4f4f0" />
<polygon points="91.8,605.0 97.5,604.6 97.4,606.8 91.6,607.2" fill="#f4f4f0" />
<polygon points="62.5,615.5 67.3,615.2 67.2,616.9 62.4,617.2" fill="#f4f4f0" />
<polygon points="79.4,613.0 84.2,612.7 84.1,614.5 79.3,614.8" fill="#f4f4f0" />
<polygon points="69.5,618.5 98.4,614.7 97.6,629.3 68.7,630.5" fill="#7399c2" />
<polygon points="99.0,603.8 101.4,603.6 100.0,629.2 97.6,629.3" fill="#4a4a48" />
<polygon points="104.4,546.3 165.5,536.6 163.9,586.9 101.9,592.6" fill="#aeac9c" />
<polygon points="104.4,546.3 165.5,536.6 164.8,559.2 103.3,567.1" fill="#bbb9ab" />
<polygon points="108.9,552.1 117.5,550.8 117.3,554.6 108.7,555.8" fill="#f2f2ee" />
<polygon points="131.7,545.3 142.7,543.6 142.6,547.0 131.6,548.7" fill="#f2f2ee" />
<polygon points="154.3,544.3 162.2,543.1 162.1,546.1 154.2,547.3" fill="#f2f2ee" />
<polygon points="112.1,561.8 119.5,560.8 119.4,563.2 112.0,564.2" fill="#f2f2ee" />
<polygon points="134.3,555.9 141.7,554.9 141.6,557.4 134.2,558.4" fill="#f2f2ee" />
<polygon points="151.5,553.6 157.6,552.7 157.6,554.7 151.4,555.5" fill="#f2f2ee" />
<polygon points="121.6,567.1 127.8,566.4 127.7,568.3 121.5,569.0" fill="#f2f2ee" />
<polygon points="102.8,576.9 123.1,574.5 122.6,585.0 102.2,587.0" fill="#3d4444" />
<polygon points="126.5,566.5 162.4,558.1 161.8,576.1 125.8,583.7" fill="#7399c2" />
<polygon points="102.3,586.1 133.3,580.1 164.4,571.8 164.1,578.9 133.0,586.4 102.0,591.2" fill="#e6e6e4" />
<polygon points="102.0,591.2 163.9,585.4 163.9,586.9 101.9,592.6" fill="#8e8e8c" />
<polygon points="161.9,552.1 165.0,551.7 164.3,572.8 161.2,573.2" fill="#4a4a48" />
<polygon points="101.9,592.6 163.9,586.9 162.6,626.8 100.0,629.2" fill="#aeac9c" />
<polygon points="101.9,592.6 163.9,586.9 163.3,604.9 101.1,609.1" fill="#bbb9ab" />
<polygon points="104.9,596.0 114.8,595.1 114.6,598.9 104.7,599.7" fill="#f4f4f0" />
<polygon points="127.8,593.3 139.0,592.3 138.8,596.1 127.7,597.1" fill="#f4f4f0" />
<polygon points="152.6,591.9 161.3,591.1 161.2,594.3 152.5,595.0" fill="#f4f4f0" />
<polygon points="108.7,605.2 116.2,604.7 116.0,607.3 108.6,607.8" fill="#f4f4f0" />
<polygon points="131.1,602.9 139.8,602.2 139.7,604.9 131.0,605.5" fill="#f4f4f0" />
<polygon points="151.0,600.6 158.5,600.1 158.4,602.4 150.9,603.0" fill="#f4f4f0" />
<polygon points="113.3,612.3 119.6,612.0 119.5,613.8 113.2,614.2" fill="#f4f4f0" />
<polygon points="135.2,609.4 141.4,609.0 141.3,611.0 135.1,611.4" fill="#f4f4f0" />
<polygon points="122.5,615.5 160.0,611.0 159.5,626.9 121.9,628.4" fill="#7399c2" />
<polygon points="160.4,599.1 163.5,598.9 162.6,626.8 159.5,626.9" fill="#4a4a48" />
<polygon points="104.0,546.4 105.1,546.2 100.8,629.2 99.7,629.2" fill="#6a6a68" />
<polygon points="51.9,631.1 162.6,626.8 162.0,644.6 50.8,646.4" fill="#e4e4e4" />
<polygon points="56.2,632.3 159.2,628.5 158.9,636.6 55.7,639.3" fill="#d2d2d2" />
<polygon points="59.4,633.6 62.5,633.5 62.3,637.8 59.2,637.8" fill="#6a8ac0" />
<polygon points="65.6,633.4 68.7,633.3 68.5,637.6 65.4,637.7" fill="#555" />
<polygon points="71.8,633.2 74.9,633.1 74.7,637.4 71.6,637.5" fill="#555" />
<polygon points="78.0,633.0 81.1,632.9 80.9,637.2 77.8,637.3" fill="#555" />
<polygon points="84.3,632.8 87.4,632.6 87.1,637.0 84.0,637.1" fill="#555" />
<polygon points="90.5,632.5 93.6,632.4 93.3,636.9 90.2,637.0" fill="#555" />
<polygon points="96.7,632.3 99.8,632.2 99.5,636.7 96.4,636.8" fill="#555" />
<polygon points="102.9,632.1 106.0,632.0 105.7,636.5 102.6,636.6" fill="#555" />
<polygon points="109.1,631.9 112.2,631.8 112.0,636.3 108.8,636.4" fill="#555" />
<polygon points="115.3,631.7 118.4,631.6 118.2,636.1 115.1,636.2" fill="#c33" />
<polygon points="121.5,631.5 124.6,631.3 124.4,636.0 121.3,636.1" fill="#555" />
<polygon points="127.7,631.2 130.8,631.1 130.6,635.8 127.5,635.9" fill="#555" />
<polygon points="133.9,631.0 137.0,630.9 136.8,635.6 133.7,635.7" fill="#555" />
<polygon points="140.1,630.8 143.2,630.7 143.0,635.4 139.9,635.5" fill="#555" />
<polygon points="146.3,630.6 149.4,630.5 149.2,635.3 146.1,635.3" fill="#555" />
<polygon points="152.5,630.4 155.6,630.3 155.4,635.1 152.3,635.2" fill="#555" />
<polygon points="100.4,590.2 104.8,589.7 104.6,594.7 100.2,595.1" fill="#b03030" />
<polygon points="72.1,557.1 78.6,556.1 78.4,559.0 71.9,559.9" fill="#a83030" />
</g>

<!-- ============ DVR ============ -->
<g>
  <polygon points="302.7,636.7 362.5,622.5 500.6,628.3 465.4,649" fill="url(#gDvrTop)"/>
  <polygon points="318,632.8 340,628.5 342,630.8 320,635" fill="#a9b0bf" opacity="0.8"/>
  <polygon points="302.7,636.7 465.4,649 465,680.8 306,660.6 304.3,656.6" fill="#0d0d0d"/>
  <polygon points="302.7,636.7 465.4,649 465.4,655 302.9,642.2" fill="url(#gDvrBevel)"/>
  <polygon points="304.3,656.6 465,676 465,680.8 306,660.6" fill="#1c1c1c"/>
  <polygon points="465.4,649 500.6,628.3 500,663 465,680.8" fill="#251d1a"/>
  <g stroke="#6a605c" stroke-width="0.8"><line x1="477" y1="656" x2="494" y2="642"/><line x1="477" y1="660" x2="494" y2="646"/><line x1="477" y1="664" x2="494" y2="650"/><line x1="477" y1="668" x2="494" y2="654"/></g>
  <rect x="442" y="668" width="9.3" height="5" fill="#cfcfcf"/>
  <rect x="443" y="669.5" width="7.3" height="1.5" fill="#666"/>
  <rect x="454" y="670" width="3" height="1.3" fill="#4a6aa0"/>
  <rect x="421" y="653.5" width="3" height="1" fill="#777"/><rect x="430" y="654.3" width="3" height="1" fill="#777"/>
  <path d="M500.5,640 C505,638 510,640 513,648 C512,653 510,655 510,660 C510,664 507,667 504,668" fill="none" stroke="#4a4a4a" stroke-width="1"/>
  <ellipse cx="489.5" cy="676.3" rx="17.5" ry="10.6" fill="#1a1a1a" transform="rotate(-12 489.5 676.3)"/>
  <ellipse cx="495" cy="671" rx="8.5" ry="4.2" fill="#3a3a3c" transform="rotate(-15 495 671)"/>
  <path d="M474,680 C478,686 490,688 500,684" fill="none" stroke="#333" stroke-width="1"/>
</g>

<!-- ============ TEXT ============ -->
<g style="stroke:#1a1a1a;stroke-width:0.25">
<text x="51.5" y="112" font-size="15" textLength="93" lengthAdjust="spacingAndGlyphs" style="stroke:none">CT-AHD910</text>
<text x="500" y="145.6" font-size="13.5" textLength="99.5" lengthAdjust="spacingAndGlyphs">配線延長ケーブル</text>
<text x="603.5" y="145.5" font-size="10.5" textLength="30.5" lengthAdjust="spacingAndGlyphs">(別売)</text>
<text x="479" y="165.5" font-size="13.5" textLength="188" lengthAdjust="spacingAndGlyphs">※各カメラに1本ずつ必要です。</text>
<text x="40.2" y="339.7" font-size="12.5" font-weight="bold" textLength="92.5" lengthAdjust="spacingAndGlyphs" style="stroke:none;font-feature-settings:'palt'">スマホ、タブレット</text>
<text x="377.5" y="319" font-size="13.5" textLength="55" lengthAdjust="spacingAndGlyphs">ルーター</text>
<text x="389" y="332" font-size="10.5" textLength="32" lengthAdjust="spacingAndGlyphs">(別売)</text>
<text x="593.8" y="394.4" font-size="13.5" textLength="57" lengthAdjust="spacingAndGlyphs">AC100V</text>
<text x="592.5" y="410" font-size="13" textLength="61.5" lengthAdjust="spacingAndGlyphs">コンセント</text>
<text x="487.5" y="497" font-size="13.5" textLength="95" lengthAdjust="spacingAndGlyphs">DC12V1A電源</text>
<text x="487.5" y="511" font-size="12.5" textLength="71" lengthAdjust="spacingAndGlyphs">カメラ付属品</text>
<text x="247.3" y="494" font-size="13.5" textLength="57.5" lengthAdjust="spacingAndGlyphs">AC100V</text>
<text x="245.3" y="509" font-size="13" textLength="63" lengthAdjust="spacingAndGlyphs">コンセント</text>
<text x="301.5" y="543.6" font-size="13.5" textLength="76" lengthAdjust="spacingAndGlyphs">DC12V電源</text>
<text x="301.5" y="557.2" font-size="11.5" textLength="87" lengthAdjust="spacingAndGlyphs">レコーダー付属品</text>
<text x="363.5" y="496.5" font-size="15" textLength="84.5" lengthAdjust="spacingAndGlyphs">LANケーブル</text>
<text x="376" y="510" font-size="11.5" textLength="60" lengthAdjust="spacingAndGlyphs">セット付属品</text>
<text x="194.5" y="683" font-size="14" textLength="38.5" lengthAdjust="spacingAndGlyphs">HDMI</text>
<text x="233" y="682.8" font-size="12" textLength="41" lengthAdjust="spacingAndGlyphs">ケーブル</text>
<text x="194.5" y="696.5" font-size="11.5" textLength="59" lengthAdjust="spacingAndGlyphs">セット付属品</text>
<text x="68.5" y="715.3" font-size="14" textLength="75.5" lengthAdjust="spacingAndGlyphs">WQHD対応</text>
<text x="62.5" y="733.2" font-size="14.5" textLength="57" lengthAdjust="spacingAndGlyphs">モニター</text>
<text x="118.5" y="732.5" font-size="11.5" textLength="29.5" lengthAdjust="spacingAndGlyphs">(別売)</text>
<text x="337" y="713.6" font-size="14.5" textLength="119.5" lengthAdjust="spacingAndGlyphs">デジタルレコーダー</text>
</g>
</svg>
</body></html>
